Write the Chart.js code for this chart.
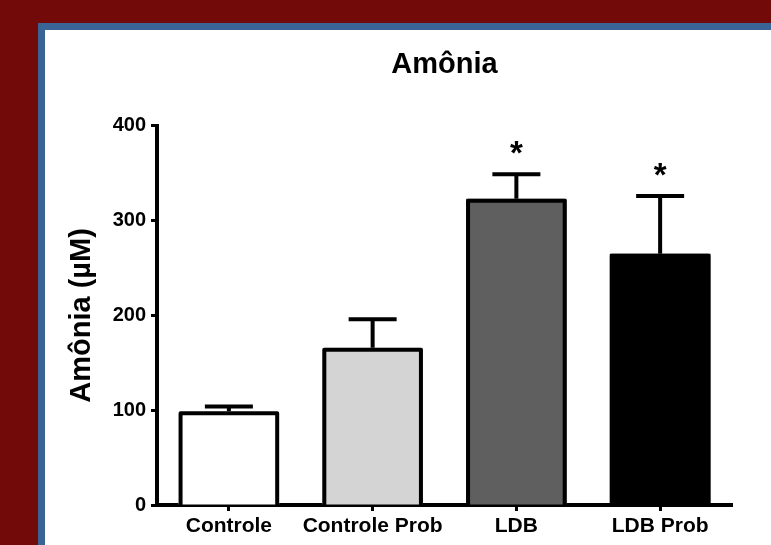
<!DOCTYPE html>
<html>
<head>
<meta charset="utf-8">
<script src="https://cdn.jsdelivr.net/npm/chart.js@4"></script>
<style>
  html, body { margin: 0; padding: 0; background: #730a0a; overflow: hidden; }
  #panel {
    position: absolute; left: 38px; top: 23px; width: 800px; height: 600px;
    background: #ffffff; border: 7px solid #3a6496;
  }
  #wrap { position: absolute; left: 0; top: 0; width: 771px; height: 545px; }
</style>
</head>
<body>
<div id="panel"></div>
<div id="wrap"><canvas id="amoniaChart" width="771" height="545"></canvas></div>
<script>
const CATEGORIES = ['Controle', 'Controle Prob', 'LDB', 'LDB Prob'];
const MEANS = [99, 166, 323, 265];
const SEM = [5, 30, 26, 61];
const SIGNIFICANCE = ['', '', '*', '*'];
const BAR_COLORS = ['#ffffff', '#d4d4d4', '#5f5f5f', '#000000'];
const Y_TICKS = [0, 100, 200, 300, 400];

const FONT = 'Liberation Sans, Arial, sans-serif';

// bar outlines, error bars (upper only) and asterisks, all placed from the bar elements
const errorBarPlugin = {
    id: 'errorBars',
    afterDatasetsDraw(chart) {
        const ctx = chart.ctx;
        const yScale = chart.scales.y;
        const meta = chart.getDatasetMeta(0);
        ctx.save();
        ctx.strokeStyle = '#000';
        ctx.lineWidth = 4;
        ctx.lineJoin = 'round';
        meta.data.forEach((bar, i) => {
            const x = bar.x;
            const half = bar.width / 2;
            const yBar = yScale.getPixelForValue(MEANS[i]);
            const yBase = yScale.getPixelForValue(0);
            ctx.beginPath();
            ctx.moveTo(x - half + 2, yBase);
            ctx.lineTo(x - half + 2, yBar + 2);
            ctx.lineTo(x + half - 2, yBar + 2);
            ctx.lineTo(x + half - 2, yBase);
            ctx.stroke();

            const yTop = yScale.getPixelForValue(MEANS[i] + SEM[i]);
            ctx.beginPath();
            ctx.moveTo(x, yBar);
            ctx.lineTo(x, yTop);
            ctx.moveTo(x - 24, yTop);
            ctx.lineTo(x + 24, yTop);
            ctx.stroke();
            if (SIGNIFICANCE[i]) {
                ctx.fillStyle = '#000';
                ctx.font = 'bold 33px ' + FONT;
                ctx.textAlign = 'center';
                ctx.textBaseline = 'alphabetic';
                ctx.fillText(SIGNIFICANCE[i], x, yTop - 10);
            }
        });
        ctx.restore();
    }
};

const dataAmonia = {
    labels: CATEGORIES,
    datasets: [
        {
            label: 'Amônia',
            data: MEANS,
            backgroundColor: BAR_COLORS,
            borderWidth: 0,
            inflateAmount: 0,
            barPercentage: 0.7,
            categoryPercentage: 1.0,
        }
    ]
};

const configAmonia = {
    type: 'bar',
    data: dataAmonia,
    options: {
        responsive: false,
        animation: false,
        layout: {
            padding: { left: 60, right: 39, top: 0, bottom: 0 }
        },
        plugins: {
            legend: { display: false },
            tooltip: { enabled: false },
            title: {
                display: true,
                fullSize: false,
                text: 'Amônia',
                color: '#000',
                font: { family: FONT, size: 29, weight: 'bold' },
                padding: { top: 48, bottom: 43 }
            }
        },
        scales: {
            x: {
                offset: true,
                grid: {
                    offset: false,
                    drawOnChartArea: false,
                    drawTicks: true,
                    tickLength: 6,
                    tickWidth: 3,
                    color: '#000'
                },
                border: { display: true, color: '#000', width: 4 },
                ticks: {
                    color: '#000',
                    padding: 3,
                    autoSkip: false,
                    maxRotation: 0,
                    minRotation: 0,
                    font: { family: FONT, size: 21, weight: 'bold' }
                },
                afterFit(scale) { scale.height = 40; }
            },
            y: {
                min: 0,
                max: 400,
                afterBuildTicks(scale) { scale.ticks = Y_TICKS.map(v => ({ value: v })); },
                grid: {
                    drawOnChartArea: false,
                    drawTicks: true,
                    tickLength: 6,
                    tickWidth: 3,
                    color: '#000'
                },
                border: { display: true, color: '#000', width: 4 },
                ticks: {
                    color: '#000',
                    padding: 5,
                    font: { family: FONT, size: 20, weight: 'bold' }
                },
                title: {
                    display: true,
                    text: 'Amônia (µM)',
                    color: '#000',
                    font: { family: FONT, size: 29, weight: 'bold' },
                    padding: { top: 5, bottom: 0 }
                },
                afterFit(scale) { scale.width = 97; }
            }
        }
    },
    plugins: [errorBarPlugin]
};

var amoniaChart = new Chart(
    document.getElementById('amoniaChart'),
    configAmonia
);
</script>
</body>
</html>
